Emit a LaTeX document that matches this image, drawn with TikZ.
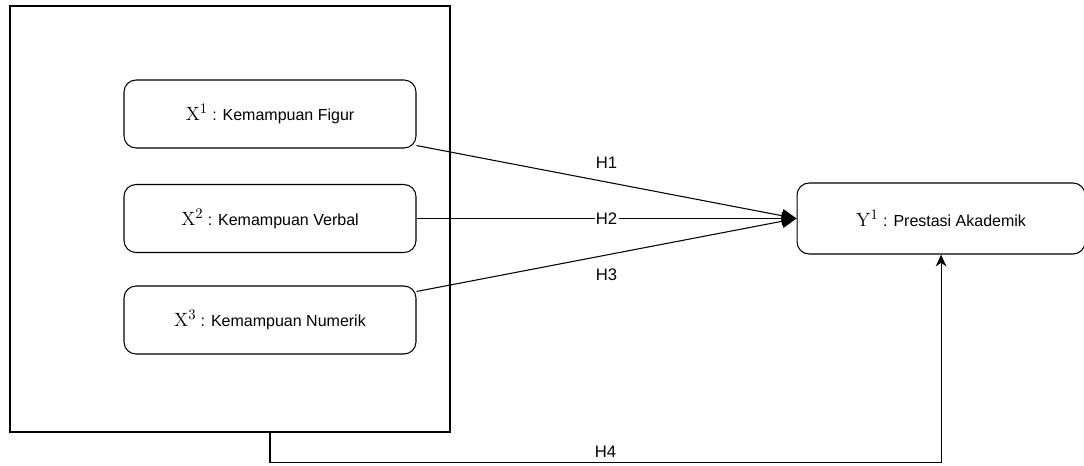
\documentclass[tikz,border=0pt]{standalone}
\usepackage[no-math]{fontspec}
\setmainfont{Liberation Sans}
\usetikzlibrary{arrows.meta, positioning}
\newcommand{\varsym}[2]{{\fontsize{15}{15}\selectfont$\mathrm{#1}^{#2}$}}

\begin{document}
\begin{tikzpicture}[x=0.75pt, y=-0.75pt,
     line width=0.8pt,
     frame/.style = {draw, minimum width=440*0.75pt, minimum height=426*0.75pt},
  varbox/.style = {draw, rounded corners=9pt, font=\fontsize{12}{15}\selectfont,
                   minimum width=292*0.75pt, minimum height=68*0.75pt},
   arrow/.style = {-{Triangle[length=11pt, width=10pt]}},
  uparrow/.style = {-{Stealth[length=9pt, width=8pt]}},
     hyp/.style = {fill=white, inner sep=1pt, font=\fontsize{12.5}{15}\selectfont}
                    ]
\useasboundingbox (0,0) rectangle (1084,465);
 % left group
\node (frame) [frame] at (230,219) {};
\node (x1)    [varbox] at (270,114)   {\varsym{X}{1} : Kemampuan Figur};
\node (x2)    [varbox] at (270,218.5) {\varsym{X}{2} : Kemampuan Verbal};
\node (x3)    [varbox] at (270,320)   {\varsym{X}{3} : Kemampuan Numerik};
 % target
\node (y1)    [varbox, minimum width=288*0.75pt, minimum height=71*0.75pt,
               right=380*0.75pt of x2] {\varsym{Y}{1} : Prestasi Akademik};
\coordinate (below_frame) at ([yshift=-30*0.75pt]frame.south -| x3.south);

\draw[arrow] ([yshift=3*0.75pt]x1.south east) -- (y1.west)
    node[hyp, pos=0.5, above=12*0.75pt] {H1};
\draw[arrow] (x2.east) -- (y1.west)
    node[hyp, pos=0.5] {H2};
\draw[arrow] ([yshift=-6*0.75pt]x3.north east) -- (y1.west)
    node[hyp, pos=0.5, below=12*0.75pt] {H3};

\draw[uparrow] (frame.south -| x3.south) -- (below_frame) -| (y1.south)
    node[hyp, pos=0.25, above=3*0.75pt] {H4};
\end{tikzpicture}
\end{document}
